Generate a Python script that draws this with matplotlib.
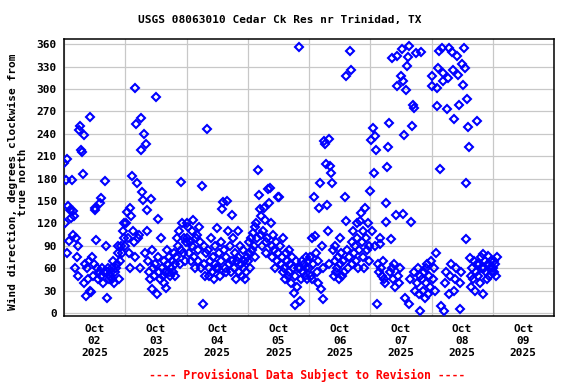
import matplotlib
matplotlib.use("Agg")
import matplotlib.pyplot as plt
import pandas as pd
import numpy as np

plt.rcParams['font.family'] = ['DejaVu Sans Mono']
plt.rcParams['font.weight'] = 'bold'

title = "USGS 08063010 Cedar Ck Res nr Trinidad, TX"
ylabel = "Wind direction, degrees clockwise from\ntrue north"
footer = "---- Provisional Data Subject to Revision ----"

# 20-minute readings, starting 2025-10-02 00:00
oct02 = [201, 120, 178, 80, 206, 143,
         97, 138, 127, 178, 105, 137,
         130, 60, 100, 75, 50, 90,
         245, 251, 218, 215, 186, 238,
         40, 65, 23, 60, 45, 70,
         30, 263, 28, 75, 50, 65,
         138, 140, 98, 60, 45, 55,
         147, 154, 50, 60, 40, 55,
         177, 90, 20, 55, 60, 45,
         50, 55, 45, 60, 70, 40,
         55, 60, 65, 80, 90, 45,
         70, 90, 80, 110, 100, 120]
oct03 = [90, 120, 135, 100, 80, 60,
         140, 130, 183, 110, 95, 75,
         301, 253, 174, 100, 105, 60,
         261, 218, 162, 151, 240, 80,
         226, 138, 110, 70, 55, 45,
         153, 32, 85, 60, 50, 65,
         289, 26, 126, 75, 55, 45,
         100, 60, 50, 70, 40, 55,
         33, 85, 65, 55, 75, 50,
         60, 70, 55, 80, 65, 50,
         75, 100, 90, 110, 65, 85,
         176, 120, 80, 100, 70, 95]
oct04 = [120, 100, 115, 80, 95, 70,
         110, 90, 125, 75, 60, 100,
         105, 85, 70, 115, 95, 60,
         170, 12, 90, 65, 50, 80,
         247, 85, 60, 50, 70, 100,
         55, 75, 45, 65, 90, 60,
         114, 60, 80, 50, 70, 95,
         139, 149, 85, 60, 55, 75,
         150, 110, 65, 90, 55, 70,
         131, 100, 60, 80, 45, 70,
         110, 75, 55, 90, 65, 50,
         85, 60, 70, 45, 55, 75]
oct05 = [70, 95, 80, 60, 100, 85,
         107, 90, 115, 75, 120, 100,
         192, 158, 139, 105, 130, 90,
         110, 140, 125, 95, 80, 100,
         166, 147, 167, 120, 90, 75,
         105, 85, 60, 95, 70, 80,
         156, 155, 90, 65, 75, 55,
         100, 60, 45, 80, 70, 50,
         85, 55, 65, 40, 75, 60,
         27, 11, 50, 70, 35, 60,
         356, 16, 60, 45, 70, 55,
         65, 50, 75, 60, 45, 70]
oct06 = [60, 75, 50, 100, 45, 65,
         155, 103, 80, 55, 40, 70,
         140, 174, 32, 90, 19, 60,
         230, 226, 199, 145, 110, 65,
         233, 197, 188, 174, 85, 50,
         90, 70, 55, 60, 75, 45,
         100, 65, 80, 50, 70, 55,
         155, 123, 317, 85, 60, 75,
         351, 326, 95, 65, 110, 80,
         90, 70, 120, 100, 60, 85,
         123, 134, 95, 75, 110, 60,
         141, 100, 85, 120, 70, 90]
oct07 = [163, 232, 110, 248, 188, 90,
         237, 219, 12, 65, 55, 100,
         92, 60, 50, 70, 45, 40,
         148, 122, 195, 223, 254, 55,
         99, 60, 342, 45, 65, 35,
         131, 304, 344, 50, 40, 60,
         317, 353, 311, 132, 238, 20,
         299, 331, 343, 358, 12, 45,
         122, 250, 279, 275, 55, 30,
         348, 40, 60, 25, 50, 3,
         349, 45, 30, 55, 20, 60,
         40, 65, 25, 50, 35, 70]
oct08 = [317, 304, 45, 60, 30, 80,
         302, 277, 328, 351, 193, 9,
         355, 322, 311, 3, 40, 55,
         273, 315, 355, 25, 50, 65,
         349, 326, 260, 30, 45, 60,
         344, 319, 278, 5, 40, 55,
         333, 306, 355, 328, 174, 99,
         286, 249, 222, 74, 35, 50,
         60, 45, 70, 30, 55, 65,
         257, 50, 65, 40, 75, 60,
         79, 26, 60, 70, 55, 45,
         76, 65, 50, 60, 70, 55]
oct09 = [60, 70, 55, 65, 50, 75]

values = oct02 + oct03 + oct04 + oct05 + oct06 + oct07 + oct08 + oct09
times = pd.date_range("2025-10-02 00:00", periods=len(values), freq="20min")

day_labels = ["Oct\n02\n2025", "Oct\n03\n2025", "Oct\n04\n2025", "Oct\n05\n2025",
              "Oct\n06\n2025", "Oct\n07\n2025", "Oct\n08\n2025", "Oct\n09\n2025"]
y_ticks = [0, 30, 60, 90, 120, 150, 180, 210, 240, 270, 300, 330, 360]

fig = plt.figure(figsize=(5.76, 3.84), dpi=100)
ax = fig.add_axes([64/576, 1-316/384, 490/576, 277/384])

ax.plot(times, values, linestyle='none', marker='D', markersize=3.8,
        markerfacecolor='none', markeredgecolor='#0000ff', markeredgewidth=1.5,
        zorder=3)

midnights = pd.date_range("2025-10-02", periods=9, freq="D")
noons = pd.date_range("2025-10-02 12:00", periods=8, freq="D")
ax.set_xlim(midnights[0], midnights[-1])
ax.set_xticks(midnights, labels=[""] * len(midnights))
ax.set_xticks(noons, labels=day_labels, minor=True)
ax.set_ylim(-4, 367)
ax.set_yticks(y_ticks)
ax.set_yticklabels([str(v) for v in y_ticks])

ax.grid(True, which='major', color='#c8c8c8', linewidth=0.9, zorder=0)
ax.set_axisbelow(True)
ax.tick_params(axis='both', which='both', length=0, labelsize=8)
ax.tick_params(axis='y', pad=5)
ax.tick_params(axis='x', which='minor', pad=6)
for s in ax.spines.values():
    s.set_linewidth(1.1)
    s.set_color('black')

fig.text(280/576, 1-20/384, title, ha='center', va='center', fontsize=8, fontweight='bold')
fig.text(18/576, 1-182/384, ylabel, ha='center', va='center', rotation=90,
         fontsize=8, fontweight='bold', multialignment='center', linespacing=1.0)
fig.text(307/576, 1-375/384, footer, ha='center', va='center', color='red',
         fontsize=8.3, fontweight='bold')

fig.savefig("out.png", dpi=100)
